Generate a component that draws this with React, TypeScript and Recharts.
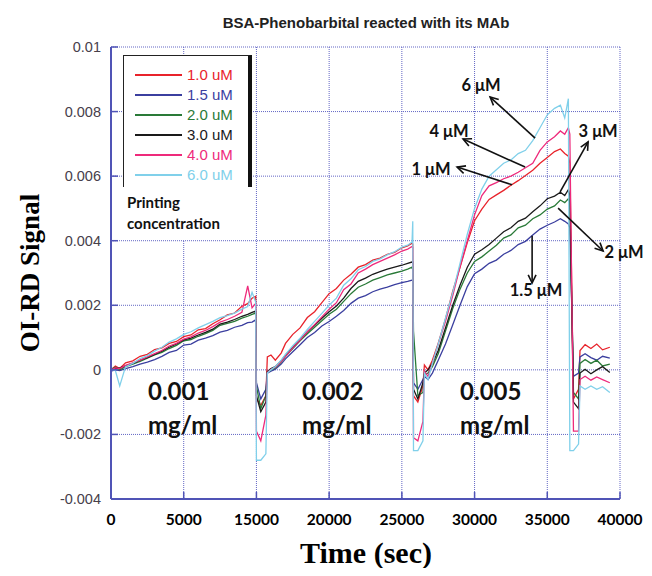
import React from "react";
import { LineChart, Line, XAxis, YAxis, CartesianGrid, Legend, ReferenceLine, ReferenceDot } from "recharts";

// time (s) of each sample, shared by all six traces
const times = [
  5000, 5300, 5600, 6000, 6500, 7000, 7500, 8000, 8500, 9000, 9500, 10000, 10500, 11000, 11500, 12000, 12500, 13000, 13500, 14000, 14400, 14700, 14950,
  15000, 15300, 15650,
  15750, 16000, 16300, 16700, 17000, 17500, 18000, 18500, 19000, 19500, 20000, 20500, 21000, 21500, 22000, 22500, 23000, 23500, 24000, 24500, 25000, 25400, 25700,
  25750, 25800, 26100, 26450,
  26550, 26800, 27100, 27500, 28000, 28500, 29000, 29500, 30000, 30500, 31000, 31500, 32000, 32500, 33000, 33500, 34000, 34500, 35000, 35500, 35900, 36200, 36450,
  36550, 36800, 37150,
  37250, 37600, 38000, 38400, 38800, 39300,
];

const conc10 = [
  0.0, 0.00012, 0.00004, 0.00022, 0.00028, 0.00042, 0.00048, 0.00063, 0.00068, 0.00082, 0.00088, 0.00103, 0.00108, 0.00124, 0.00128, 0.00143, 0.00155, 0.0017, 0.00176, 0.00197, 0.00205, 0.00222, 0.00228,
  -0.0009, -0.0011, -0.0008,
  0.0004, 0.00046, 0.0003, 0.00052, 0.00082, 0.0011, 0.0013, 0.00162, 0.0018, 0.00208, 0.00236, 0.00252, 0.00278, 0.00296, 0.00318, 0.00326, 0.0034, 0.00346, 0.00358, 0.00364, 0.00378, 0.00384, 0.00392,
  0.0039, -0.0008, -0.001, -0.0005,
  0.00015, 0.0, 0.0003, 0.00082, 0.00158, 0.00244, 0.00318, 0.00394, 0.00462, 0.00498, 0.00528, 0.00542, 0.00556, 0.00572, 0.00586, 0.00602, 0.00618, 0.0064, 0.00658, 0.00676, 0.00684, 0.0067, 0.00662,
  0.0064, -0.0009, -0.0006,
  0.0006, 0.00078, 0.00066, 0.0008, 0.00062, 0.0007,
];

const conc15 = [
  -0.00004, 0.0, -0.00002, 0.00004, 0.0001, 0.00018, 0.00024, 0.00032, 0.00042, 0.00054, 0.0006, 0.00077, 0.0008, 0.00092, 0.00098, 0.00106, 0.00117, 0.00122, 0.00132, 0.00138, 0.00146, 0.00148, 0.00155,
  -0.0004, -0.0009, -0.0006,
  -0.0001, -0.00004, 0.00002, 0.00018, 0.00034, 0.00056, 0.00078, 0.001, 0.00116, 0.00136, 0.0015, 0.00166, 0.00184, 0.00206, 0.00222, 0.0023, 0.00242, 0.0025, 0.00256, 0.00264, 0.0027, 0.00274, 0.00278,
  0.0028, -0.0004, -0.0006, -0.0003,
  -0.0002, -0.0003, -0.0001, 0.0003, 0.0008, 0.0014, 0.002, 0.00258, 0.00298, 0.00312, 0.0033, 0.0034, 0.00358, 0.0037, 0.00388, 0.00398, 0.00418, 0.00436, 0.00448, 0.00458, 0.00468, 0.0046, 0.00452,
  0.0044, -0.0002, -0.0001,
  0.0004, 0.0005, 0.00038, 0.0003, 0.00042, 0.00036,
];

const conc20 = [
  0.00002, 0.00008, 0.0, 0.0001, 0.00018, 0.00026, 0.00036, 0.00046, 0.00054, 0.00066, 0.00076, 0.0009, 0.00094, 0.00104, 0.00112, 0.00122, 0.00138, 0.00144, 0.0015, 0.0016, 0.00166, 0.00172, 0.00176,
  -0.0005, -0.0012, -0.0008,
  -0.00008, 0.0, 0.00006, 0.00024, 0.00042, 0.00066, 0.0009, 0.00112, 0.00132, 0.00152, 0.00172, 0.00188, 0.00212, 0.00236, 0.00256, 0.00266, 0.00278, 0.00286, 0.00294, 0.003, 0.00306, 0.00312, 0.00318,
  0.0031, 0.0012, -0.0008, -0.0007,
  -0.00015, -0.0001, 0.0001, 0.0005, 0.0012, 0.0019, 0.0025, 0.003, 0.00336, 0.0035, 0.00368, 0.00386, 0.00408, 0.00418, 0.0044, 0.00448, 0.00468, 0.0048, 0.00498, 0.00508, 0.00526, 0.00518, 0.0053,
  0.0052, -0.0007, -0.0009,
  0.0002, 0.00032, 0.0002, 0.0003, 0.00012, 0.00018,
];

const conc30 = [
  0.0, 0.00004, 0.00006, 0.00012, 0.0002, 0.0003, 0.00038, 0.00048, 0.00058, 0.0007, 0.0008, 0.00093, 0.00098, 0.00108, 0.00116, 0.00126, 0.00142, 0.00148, 0.00156, 0.00166, 0.00172, 0.00178, 0.00182,
  -0.0008, -0.0013, -0.001,
  -0.00005, 0.00004, 0.0001, 0.00028, 0.00046, 0.0007, 0.00094, 0.00118, 0.00138, 0.0016, 0.0018, 0.00198, 0.00222, 0.00252, 0.00274, 0.00284, 0.00296, 0.00304, 0.00312, 0.00318, 0.00324, 0.0033, 0.00334,
  0.00334, -0.0006, -0.0009, -0.0004,
  -0.0001, 0.0, 0.0002, 0.0006, 0.0013, 0.002, 0.00262, 0.00318, 0.00358, 0.00372, 0.00388, 0.00408, 0.00428, 0.0044, 0.0046, 0.0047, 0.0049, 0.00508, 0.0053, 0.00538, 0.0055, 0.0054, 0.00558,
  0.0054, -0.001, -0.0012,
  -0.0001, 0.00002, -0.00012, 0.0, 0.0001, -0.00008,
];

const conc40 = [
  0.0, 0.00006, 0.00004, 0.00014, 0.00022, 0.0003, 0.0004, 0.0005, 0.0006, 0.00074, 0.00082, 0.00095, 0.00102, 0.00114, 0.00122, 0.00134, 0.00148, 0.00156, 0.00166, 0.00178, 0.0026, 0.00192, 0.00206,
  -0.0019, -0.0022, -0.0014,
  -0.00008, 0.00002, 0.00008, 0.00026, 0.00042, 0.00068, 0.00092, 0.00118, 0.0014, 0.00164, 0.00188, 0.00208, 0.00248, 0.00266, 0.003, 0.00312, 0.00326, 0.00336, 0.00346, 0.00356, 0.00368, 0.00374, 0.00382,
  0.0038, -0.0021, -0.0022, -0.0016,
  -0.00005, -0.0002, 0.0002, 0.0008, 0.0015, 0.0023, 0.0032, 0.004, 0.0048, 0.0054, 0.0057, 0.0058, 0.00592, 0.006, 0.00612, 0.00626, 0.0064, 0.0068, 0.00706, 0.00722, 0.0074, 0.0073, 0.0075,
  0.0073, -0.0019, -0.0019,
  -0.0003, -0.0002, -0.00032, -0.00022, -0.0003, -0.0004,
];

const conc60 = [
  0.00002, -0.00002, -0.0005, 0.0001, 0.0002, 0.00035, 0.00044, 0.00058, 0.0007, 0.00086, 0.00096, 0.0011, 0.00118, 0.0013, 0.0014, 0.0015, 0.00162, 0.00168, 0.00176, 0.00188, 0.00196, 0.0024, 0.0021,
  -0.0028, -0.0028, -0.0026,
  -0.0001, 0.0, 0.0001, 0.0003, 0.00048, 0.00075, 0.00098, 0.00125, 0.0015, 0.00175, 0.002, 0.00222, 0.00262, 0.00282, 0.0031, 0.0032, 0.00336, 0.00344, 0.00356, 0.00366, 0.0038, 0.00386, 0.00396,
  0.0046, -0.0025, -0.0025, -0.0022,
  -0.0001, -0.0003, 0.0002, 0.0008, 0.0016, 0.0024, 0.0033, 0.0042, 0.005, 0.0056, 0.006, 0.0062, 0.0064, 0.0065, 0.0067, 0.0068, 0.0071, 0.0075, 0.0079, 0.0081, 0.0082, 0.0078, 0.0084,
  -0.0025, -0.0025, -0.0023,
  -0.0005, -0.0006, -0.0005, -0.0006, -0.00052, -0.0007,
];

const seriesValues = [conc10, conc15, conc20, conc30, conc40, conc60];
const seriesNames = ["1.0 uM", "1.5 uM", "2.0 uM", "3.0 uM", "4.0 uM", "6.0 uM"];
const seriesColors = ["#e8232b", "#3b3f9f", "#2a7a38", "#1a1a1a", "#ee2a7b", "#80d0ea"];

const xTicks = [5000, 10000, 15000, 20000, 25000, 30000, 35000, 40000];
const xTickLabels = ["0", "5000", "15000", "20000", "25000", "30000", "35000", "40000"];
const yTicks = [-0.004, -0.002, 0, 0.002, 0.004, 0.006, 0.008, 0.01];
const yTickLabels = ["-0.004", "-0.002", "0", "0.002", "0.004", "0.006", "0.008", "0.01"];

// arrow annotations: label, label position, arrow tail (on curve) and head
const arrowNotes = [
  { text: "6 μM", lx: 30449, ly: 0.00882, tx: 34163, ty: 0.00718, hx: 31068, hy: 0.00845 },
  { text: "4 μM", lx: 28248, ly: 0.0074, tx: 33475, ty: 0.00628, hx: 29211, hy: 0.00715 },
  { text: "1 μM", lx: 27010, ly: 0.00622, tx: 32581, ty: 0.00573, hx: 28799, hy: 0.00628 },
  { text: "3 μM", lx: 38496, ly: 0.0074, tx: 35882, ty: 0.00551, hx: 37808, hy: 0.00706 },
  { text: "2 μM", lx: 40280, ly: 0.00365, tx: 35745, ty: 0.00501, hx: 38840, hy: 0.00368 },
  { text: "1.5 μM", lx: 34232, ly: 0.00247, tx: 33957, ty: 0.00415, hx: 33957, hy: 0.00269 },
];

const doseNotes = [
  { line1: "0.001", line2: "mg/ml", x: 7545, y: -0.00062 },
  { line1: "0.002", line2: "mg/ml", x: 18137, y: -0.00062 },
  { line1: "0.005", line2: "mg/ml", x: 29004, y: -0.00062 },
];

const rows = times.map((t, i) => {
  const row: Record<string, number> = { t };
  seriesValues.forEach((vals, k) => {
    row[`s${k}`] = vals[i];
  });
  return row;
});

const FRAME = "#5054b6";
const GRID = "#6266c4";
const CALIBRI = "Lato, 'Open Sans', sans-serif";
const ARIAL = "'Liberation Sans', Arial, sans-serif";
const TIMES = "'Liberation Serif', 'Times New Roman', serif";

const BottomTick = (p: any) => (
  <g>
    <line x1={p.x} x2={p.x} y1={p.y} y2={p.y - 7} stroke={FRAME} strokeWidth={1.5} />
    <text x={p.x} y={p.y + 26} textAnchor="middle" fontFamily={CALIBRI} fontWeight={700} fontSize={15.5} fill="#000">
      {xTickLabels[p.index]}
    </text>
  </g>
);

const TopTick = (p: any) => <line x1={p.x} x2={p.x} y1={p.y} y2={p.y + 7} stroke={FRAME} strokeWidth={1.5} />;

const LeftTick = (p: any) => (
  <g>
    <line x1={p.x} x2={p.x + 7} y1={p.y} y2={p.y} stroke={FRAME} strokeWidth={1.5} />
    <text x={p.x - 10} y={p.y + 5} textAnchor="end" fontFamily={ARIAL} fontSize={14.5} fill="#47404a">
      {yTickLabels[p.index]}
    </text>
  </g>
);

const RightTick = (p: any) => <line x1={p.x} x2={p.x - 7} y1={p.y} y2={p.y} stroke={FRAME} strokeWidth={1.5} />;

const Arrow = (p: any) => {
  const { x1, y1, x2, y2 } = p;
  const a = Math.atan2(y2 - y1, x2 - x1);
  const len = 9;
  const spread = 0.45;
  const ax = x2 - len * Math.cos(a - spread);
  const ay = y2 - len * Math.sin(a - spread);
  const bx = x2 - len * Math.cos(a + spread);
  const by = y2 - len * Math.sin(a + spread);
  return (
    <g stroke="#111" strokeWidth={1.6} fill="none">
      <line x1={x1} y1={y1} x2={x2} y2={y2} />
      <polyline points={`${ax},${ay} ${x2},${y2} ${bx},${by}`} />
    </g>
  );
};

const noteLabel = (text: string) => (p: any) => (
  <text x={p.cx} y={p.cy} textAnchor="middle" dominantBaseline="central" fontFamily={CALIBRI} fontWeight={700} fontSize={16.5} fill="#111">
    {text}
  </text>
);

const doseLabel = (l1: string, l2: string) => (p: any) => (
  <text x={p.cx} y={p.cy} dominantBaseline="central" fontFamily={CALIBRI} fontWeight={700} fontSize={24} fill="#111">
    <tspan x={p.cx}>{l1}</tspan>
    <tspan x={p.cx} dy={34}>{l2}</tspan>
  </text>
);

const renderLegend = (props: any) => {
  const items = props.payload || [];
  return (
    <div style={{ width: 129, background: "#fff" }}>
      <div
        style={{
          borderTop: "1px solid #222",
          borderLeft: "1px solid #222",
          borderRight: "4px solid #111",
          height: 122,
          paddingTop: 9,
          boxSizing: "content-box",
        }}
      >
        {items.map((it: any, i: number) => (
          <div key={it.value} style={{ display: "flex", alignItems: "center", height: 20 }}>
            <div
              style={{ width: 47, height: 2, flexShrink: 0, background: seriesColors[i], marginLeft: 11, marginRight: 5 }}
            />
            <span style={{ fontFamily: ARIAL, fontSize: 15, color: seriesColors[i], lineHeight: "20px", whiteSpace: "nowrap" }}>
              {it.value}
            </span>
          </div>
        ))}
      </div>
      <div style={{ fontFamily: CALIBRI, fontWeight: 700, fontSize: 15, lineHeight: "21px", color: "#111", padding: "5px 0 6px 4px" }}>
        Printing
        <br />
        concentration
      </div>
    </div>
  );
};

export default function App() {
  return (
    <div style={{ position: "relative", width: 644, height: 560 }}>
      <LineChart width={644} height={560} data={rows} margin={{ top: 39, right: 32, bottom: 0, left: 0 }}>
        <CartesianGrid stroke={GRID} strokeDasharray="1 1" />
        <XAxis
          dataKey="t"
          type="number"
          domain={[5000, 40000]}
          ticks={xTicks}
          interval={0}
          allowDataOverflow
          height={69}
          tickSize={0}
          tickMargin={0}
          tickLine={false}
          tick={<BottomTick />}
          axisLine={{ stroke: FRAME, strokeWidth: 2 }}
        />
        <XAxis
          xAxisId="top"
          orientation="top"
          type="number"
          domain={[5000, 40000]}
          ticks={xTicks}
          interval={0}
          allowDataOverflow
          height={0}
          tickSize={0}
          tickMargin={0}
          tickLine={false}
          tick={<TopTick />}
          axisLine={{ stroke: FRAME, strokeWidth: 2 }}
        />
        <YAxis
          type="number"
          domain={[-0.004, 0.01]}
          ticks={yTicks}
          interval={0}
          allowDataOverflow
          width={103}
          tickSize={0}
          tickMargin={0}
          tickLine={false}
          tick={<LeftTick />}
          axisLine={{ stroke: FRAME, strokeWidth: 2 }}
        />
        <YAxis
          yAxisId="right"
          orientation="right"
          type="number"
          domain={[-0.004, 0.01]}
          ticks={yTicks}
          interval={0}
          allowDataOverflow
          width={0}
          tickSize={0}
          tickMargin={0}
          tickLine={false}
          tick={<RightTick />}
          axisLine={{ stroke: FRAME, strokeWidth: 2 }}
        />
        <Legend
          layout="vertical"
          align="center"
          verticalAlign="middle"
          wrapperStyle={{ left: 115, top: 47, width: 129 }}
          content={renderLegend}
        />
        {seriesNames.map((name, k) => (
          <Line
            key={name}
            type="linear"
            dataKey={`s${k}`}
            name={name}
            stroke={seriesColors[k]}
            strokeWidth={1.3}
            dot={false}
            isAnimationActive={false}
          />
        ))}
        {arrowNotes.map((n) => (
          <ReferenceLine
            key={`a-${n.text}`}
            segment={[
              { x: n.tx, y: n.ty },
              { x: n.hx, y: n.hy },
            ]}
            ifOverflow="visible"
            shape={Arrow}
          />
        ))}
        {arrowNotes.map((n) => (
          <ReferenceDot key={`l-${n.text}`} x={n.lx} y={n.ly} r={0} ifOverflow="visible" shape={noteLabel(n.text)} />
        ))}
        {doseNotes.map((n) => (
          <ReferenceDot key={`d-${n.line1}`} x={n.x} y={n.y} r={0} ifOverflow="visible" shape={doseLabel(n.line1, n.line2)} />
        ))}
        <text x={358} y={14} textAnchor="middle" dominantBaseline="central" fontFamily={ARIAL} fontWeight={700} fontSize={15} fill="#222">
          BSA-Phenobarbital reacted with its MAb
        </text>
        <text x={358} y={544} textAnchor="middle" dominantBaseline="central" fontFamily={TIMES} fontWeight={700} fontSize={30} fill="#000">
          Time (sec)
        </text>
        <text
          x={22}
          y={265}
          textAnchor="middle"
          dominantBaseline="central"
          transform="rotate(-90 22 265)"
          fontFamily={TIMES}
          fontWeight={700}
          fontSize={27}
          fill="#000"
        >
          OI-RD Signal
        </text>
      </LineChart>
    </div>
  );
}
